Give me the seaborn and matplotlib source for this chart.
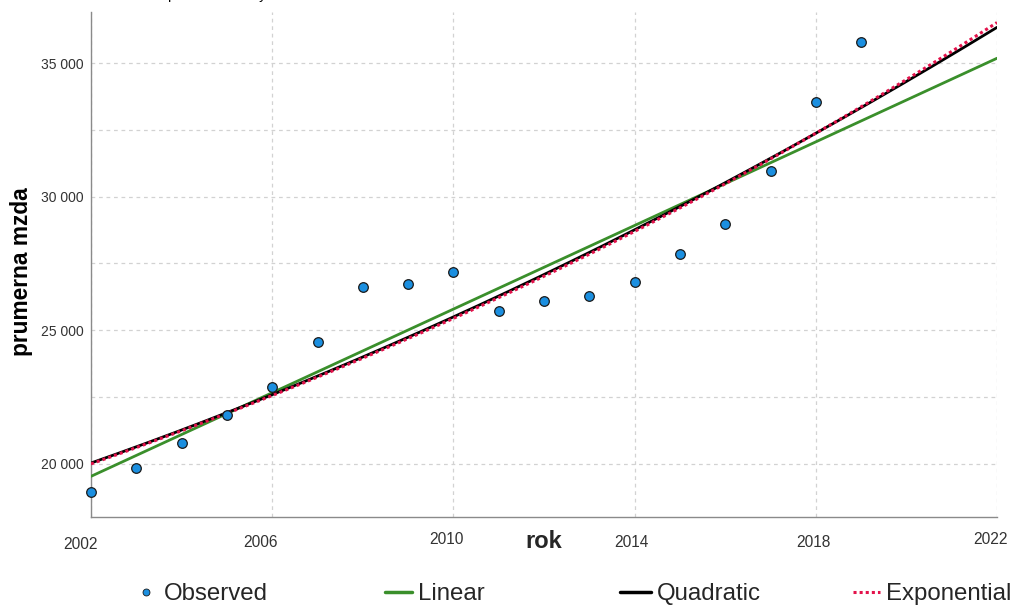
import numpy as np
import pandas as pd
import matplotlib
matplotlib.use("Agg")
import matplotlib.pyplot as plt
import matplotlib.ticker as mticker
from matplotlib.lines import Line2D
from matplotlib.transforms import ScaledTranslation
import seaborn as sns

# ---- data ----
years = [2002, 2003, 2004, 2005, 2006, 2007, 2008, 2009, 2010,
         2011, 2012, 2013, 2014, 2015, 2016, 2017, 2018, 2019]
wage = [18924, 19850, 20761, 21837, 22875, 24539, 26600, 26724, 27163,
        25710, 26085, 26270, 26795, 27840, 28960, 30950, 33565, 35800]
x_ticks = [2002, 2006, 2010, 2014, 2018, 2022]
y_ticks = [20000, 25000, 30000, 35000]
legend_labels = ["Observed", "Linear", "Quadratic", "Exponential"]

sns.set_theme(style="white")
plt.rcParams["font.family"] = ["Liberation Sans", "DejaVu Sans"]

BLUE = "#1b8fe0"
GREEN = "#3a8f2b"
RED = "#e3124b"

df = pd.DataFrame({"rok": years, "mzda": wage})

# ---- curve fits (computed from the observed data) ----
xr = np.linspace(x_ticks[0], x_ticks[-1], 300)
x0 = np.mean(years)
t = np.array(years) - x0
tr = xr - x0
y = np.array(wage, dtype=float)
lin = np.polyval(np.polyfit(t, y, 1), tr)
quad = np.polyval(np.polyfit(t, y, 2), tr)
expo = np.exp(np.polyval(np.polyfit(t, np.log(y), 1), tr))
fits = pd.DataFrame({"rok": xr, "lin": lin, "quad": quad, "expo": expo})

fig = plt.figure(figsize=(10.11, 6.05), dpi=100)
ax = fig.add_axes([91 / 1011, 1 - 517 / 605, (997 - 91) / 1011, (517 - 12) / 605])

sns.lineplot(data=fits, x="rok", y="lin", ax=ax, color=GREEN, lw=2.0, zorder=3)
sns.lineplot(data=fits, x="rok", y="quad", ax=ax, color="black", lw=2.0, zorder=4)
sns.lineplot(data=fits, x="rok", y="expo", ax=ax, color=RED, lw=2.2,
             linestyle=(0, (1, 1)), zorder=5)
sns.scatterplot(data=df, x="rok", y="mzda", ax=ax, color=BLUE, s=48,
                edgecolor="#1a1a1a", linewidth=0.9, zorder=6, clip_on=False)

ax.set_xlim(x_ticks[0], x_ticks[-1])
ax.set_ylim(18000, 36920)
ax.set_xticks(x_ticks)
ax.yaxis.set_major_locator(mticker.FixedLocator(y_ticks))
ax.yaxis.set_minor_locator(mticker.MultipleLocator(2500))
ax.yaxis.set_major_formatter(mticker.FuncFormatter(lambda v, p: f"{v:,.0f}".replace(",", " ")))

ax.grid(True, which="major", axis="both", color="#d2d2d2", lw=0.9, linestyle=(0, (3, 3)))
ax.grid(True, which="minor", axis="y", color="#d2d2d2", lw=0.9, linestyle=(0, (3, 3)))
ax.set_axisbelow(True)

for s in ["top", "right"]:
    ax.spines[s].set_visible(False)
for s in ["left", "bottom"]:
    ax.spines[s].set_color("#8a8a8a")
    ax.spines[s].set_linewidth(1.0)

ax.tick_params(axis="both", which="both", length=0)
ax.tick_params(axis="y", labelsize=10, labelcolor="#333333", pad=5)
ax.tick_params(axis="x", labelsize=11.2, labelcolor="#333333", pad=13)

# small individual offsets of the x tick labels (as in the reference), in px
dx = [-11, -12, -7, -3, -2, -6]
dy = [-2, 0, 3, 0, 0, 3]
for lab, ox, oy in zip(ax.get_xticklabels(), dx, dy):
    lab.set_transform(lab.get_transform() +
                      ScaledTranslation(ox / 100, oy / 100, fig.dpi_scale_trans))

ax.set_xlabel("")
ax.set_ylabel("prumerna mzda", fontsize=16.4, fontweight="bold", color="black")
ax.yaxis.set_label_coords(-0.064, 0.485)
fig.text(544 / 1011, 1 - 541 / 605, "rok", fontsize=17, fontweight="bold",
         ha="center", va="center")

# title, cut off by the top edge as in the reference
fig.text(168 / 1011, 1 + 1.5 / 605, "prumerna mzdy", fontsize=10.2, ha="left",
         va="baseline", color="black")

# ---- legend: four evenly spaced entries ----
handles = [
    Line2D([], [], marker="o", color="none", markerfacecolor=BLUE,
           markeredgecolor="#1a1a1a", markeredgewidth=0.6, markersize=5),
    Line2D([], [], color=GREEN, lw=2.5),
    Line2D([], [], color="black", lw=2.5),
    Line2D([], [], color=RED, lw=2.2, linestyle=(0, (1, 1))),
]
starts = [134, 385, 620, 853]
hl = [1.0, 1.13, 1.3, 1.13]
for h, lab, x, L in zip(handles, legend_labels, starts, hl):
    fig.legend([h], [lab], loc="center left", bbox_to_anchor=(x / 1011, 1 - 594 / 605),
               frameon=False, fontsize=17.3, handlelength=L, handletextpad=0.25,
               borderpad=0, borderaxespad=0)

fig.savefig("out.png", dpi=100)
